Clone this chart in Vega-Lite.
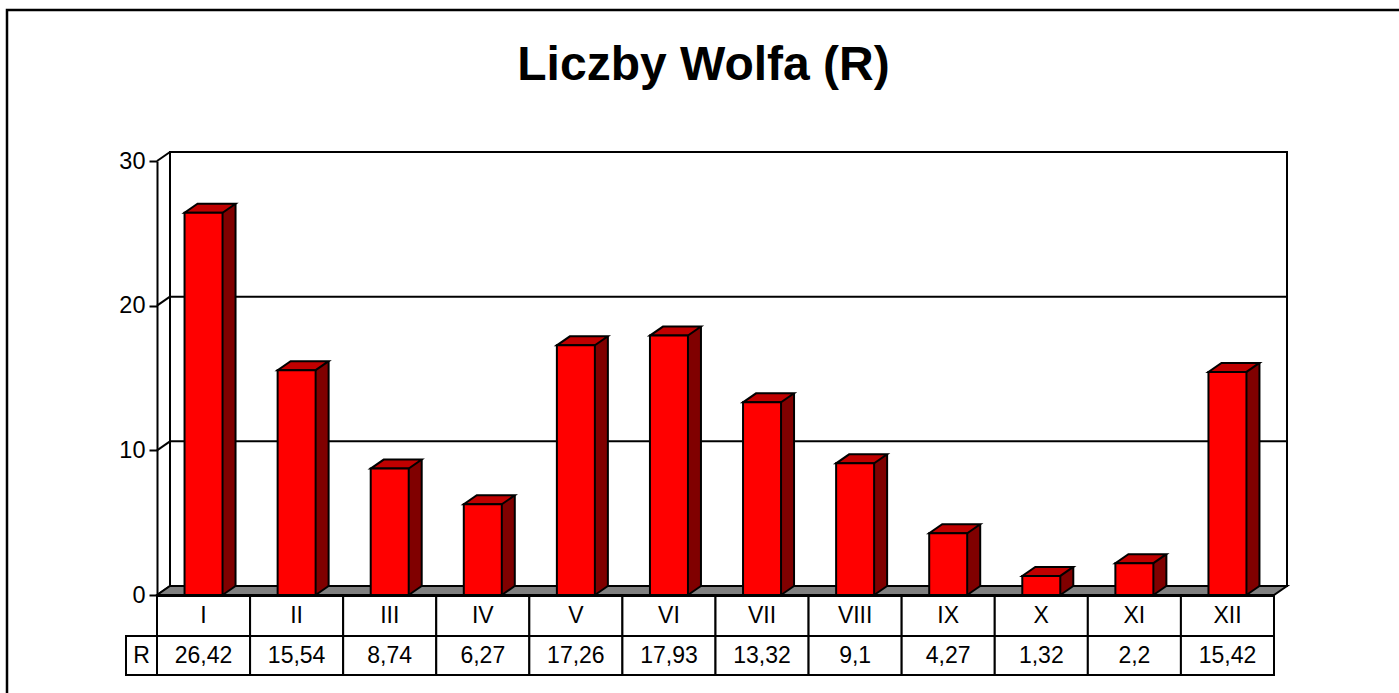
{
  "$schema": "https://vega.github.io/schema/vega-lite/v6.json",
  "width": 1117,
  "height": 434,
  "autosize": {"type": "none"},
  "padding": {"left": 157, "top": 161, "right": 125, "bottom": 98},
  "background": "white",
  "title": {
    "text": "Liczby Wolfa (R)",
    "fontSize": 48,
    "fontWeight": "bold",
    "font": "Liberation Sans",
    "color": "black",
    "anchor": "middle",
    "frame": "group",
    "dx": -12,
    "offset": -81
  },
  "config": {
    "view": {"stroke": null},
    "font": "Liberation Sans",
    "scale": {"continuousPadding": 0},
    "locale": {
      "number": {"decimal": ",", "thousands": "\u00a0", "grouping": [3], "currency": ["", " zł"]}
    }
  },
  "resolve": {"axis": {"x": "independent", "y": "independent"}},
  "data": {
    "values": [
      {"n": 1, "m": "I", "v": 26.42},
      {"n": 2, "m": "II", "v": 15.54},
      {"n": 3, "m": "III", "v": 8.74},
      {"n": 4, "m": "IV", "v": 6.27},
      {"n": 5, "m": "V", "v": 17.26},
      {"n": 6, "m": "VI", "v": 17.93},
      {"n": 7, "m": "VII", "v": 13.32},
      {"n": 8, "m": "VIII", "v": 9.1},
      {"n": 9, "m": "IX", "v": 4.27},
      {"n": 10, "m": "X", "v": 1.32},
      {"n": 11, "m": "XI", "v": 2.2},
      {"n": 12, "m": "XII", "v": 15.42}
    ]
  },
  "layer": [
    {
      "data": {"values": [{}]},
      "mark": {"type": "rect", "fillOpacity": 0, "stroke": "black", "strokeWidth": 2.5, "xOffset": -150, "x2Offset": 140, "yOffset": -151, "y2Offset": 110},
      "encoding": {
        "x": {"datum": 0.5, "type": "quantitative", "scale": {"domain": [0.5, 12.5], "nice": false, "zero": false, "padding": 0}, "axis": null},
        "x2": {"datum": 12.5},
        "y": {"datum": 30, "type": "quantitative", "scale": {"domain": [0, 30], "nice": false, "padding": 0},
          "axis": {"values": [0, 10, 20, 30], "title": null, "grid": false, "domain": true, "domainColor": "black", "domainWidth": 2, "ticks": true, "tickColor": "black", "tickWidth": 2, "tickSize": 8, "labelFont": "Liberation Sans", "labelFontSize": 23.5, "labelColor": "black", "labelPadding": 4}},
        "y2": {"datum": 0}
      }
    },
    {
      "data": {"values": [{}]},
      "mark": {"type": "rect", "fill": "white", "stroke": "black", "strokeWidth": 2, "xOffset": 13, "x2Offset": 13, "yOffset": -9, "y2Offset": -9},
      "encoding": {
        "x": {"datum": 0.5, "type": "quantitative", "scale": {"domain": [0.5, 12.5], "nice": false, "zero": false}, "axis": null},
        "x2": {"datum": 12.5},
        "y": {"datum": 30, "type": "quantitative", "scale": {"domain": [0, 30], "nice": false}, "axis": null},
        "y2": {"datum": 0}
      }
    },
    {
      "data": {"values": [{"t": 10}, {"t": 20}]},
      "mark": {"type": "rule", "color": "black", "strokeWidth": 2, "xOffset": 13, "x2Offset": 13, "yOffset": -9},
      "encoding": {
        "x": {"datum": 0.5, "type": "quantitative", "scale": {"domain": [0.5, 12.5], "nice": false, "zero": false}, "axis": null},
        "x2": {"datum": 12.5},
        "y": {"field": "t", "type": "quantitative", "scale": {"domain": [0, 30], "nice": false}, "axis": null}
      }
    },
    {
      "data": {"values": [{"t": 0}, {"t": 10}, {"t": 20}, {"t": 30}]},
      "mark": {"type": "rule", "color": "black", "strokeWidth": 2, "x2Offset": 13, "y2Offset": -9},
      "encoding": {
        "x": {"datum": 0.5, "type": "quantitative", "scale": {"domain": [0.5, 12.5], "nice": false, "zero": false}, "axis": null},
        "x2": {"datum": 0.5},
        "y": {"field": "t", "type": "quantitative", "scale": {"domain": [0, 30], "nice": false}, "axis": null},
        "y2": {"field": "t"}
      }
    },
    {
      "data": {"values": [{}]},
      "mark": {"type": "point", "shape": "M0,0 L1117,0 L1130,-9 L13,-9 Z", "size": 4, "filled": true, "fill": "#808080", "stroke": "black", "strokeWidth": 2, "opacity": 1},
      "encoding": {
        "x": {"datum": 0.5, "type": "quantitative", "scale": {"domain": [0.5, 12.5], "nice": false, "zero": false}, "axis": null},
        "y": {"datum": 0, "type": "quantitative", "scale": {"domain": [0, 30], "nice": false}, "axis": null}
      }
    },
    {
      "mark": {"type": "bar", "width": 13, "xOffset": 25.5, "yOffset": -9, "y2Offset": -9, "fill": "#800000", "strokeWidth": 0},
      "encoding": {
        "x": {"field": "n", "type": "quantitative", "scale": {"domain": [0.5, 12.5], "nice": false, "zero": false}, "axis": null},
        "y": {"field": "v", "type": "quantitative", "scale": {"domain": [0, 30], "nice": false}, "axis": null},
        "y2": {"datum": 0}
      }
    },
    {
      "mark": {"type": "point", "shape": "M19,0 L19,-10 L32,-10 L32,-9 Z", "size": 4, "filled": true, "fill": "#800000", "strokeWidth": 0, "opacity": 1},
      "encoding": {
        "x": {"field": "n", "type": "quantitative", "scale": {"domain": [0.5, 12.5], "nice": false, "zero": false}, "axis": null},
        "y": {"datum": 0, "type": "quantitative", "scale": {"domain": [0, 30], "nice": false}, "axis": null}
      }
    },
    {
      "mark": {"type": "rule", "color": "black", "strokeWidth": 2, "xOffset": 32, "yOffset": -9, "y2Offset": -9},
      "encoding": {
        "x": {"field": "n", "type": "quantitative", "scale": {"domain": [0.5, 12.5], "nice": false, "zero": false}, "axis": null},
        "y": {"field": "v", "type": "quantitative", "scale": {"domain": [0, 30], "nice": false}, "axis": null},
        "y2": {"datum": 0}
      }
    },
    {
      "mark": {"type": "rule", "color": "black", "strokeWidth": 2, "xOffset": 19, "x2Offset": 32, "y2Offset": -9},
      "encoding": {
        "x": {"field": "n", "type": "quantitative", "scale": {"domain": [0.5, 12.5], "nice": false, "zero": false}, "axis": null},
        "x2": {"field": "n"},
        "y": {"datum": 0, "type": "quantitative", "scale": {"domain": [0, 30], "nice": false}, "axis": null},
        "y2": {"datum": 0}
      }
    },
    {
      "mark": {"type": "point", "shape": "M-19,0 L19,0 L32,-9 L-6,-9 Z", "size": 4, "filled": true, "fill": "#C00000", "stroke": "black", "strokeWidth": 2, "opacity": 1},
      "encoding": {
        "x": {"field": "n", "type": "quantitative", "scale": {"domain": [0.5, 12.5], "nice": false, "zero": false}, "axis": null},
        "y": {"field": "v", "type": "quantitative", "scale": {"domain": [0, 30], "nice": false}, "axis": null}
      }
    },
    {
      "mark": {"type": "bar", "width": 38, "fill": "#FF0000", "stroke": "black", "strokeWidth": 2},
      "encoding": {
        "x": {"field": "n", "type": "quantitative", "scale": {"domain": [0.5, 12.5], "nice": false, "zero": false}, "axis": null},
        "y": {"field": "v", "type": "quantitative", "scale": {"domain": [0, 30], "nice": false}, "axis": null},
        "y2": {"datum": 0}
      }
    },
    {
      "mark": {"type": "bar", "width": 93.083, "fill": "white", "stroke": "black", "strokeWidth": 2, "yOffset": 1, "y2Offset": 41},
      "encoding": {
        "x": {"field": "n", "type": "quantitative", "scale": {"domain": [0.5, 12.5], "nice": false, "zero": false}, "axis": null},
        "y": {"datum": 0, "type": "quantitative", "scale": {"domain": [0, 30], "nice": false}, "axis": null},
        "y2": {"datum": 0}
      }
    },
    {
      "mark": {"type": "bar", "width": 93.083, "fill": "white", "stroke": "black", "strokeWidth": 2, "yOffset": 41, "y2Offset": 80},
      "encoding": {
        "x": {"field": "n", "type": "quantitative", "scale": {"domain": [0.5, 12.5], "nice": false, "zero": false}, "axis": null},
        "y": {"datum": 0, "type": "quantitative", "scale": {"domain": [0, 30], "nice": false}, "axis": null},
        "y2": {"datum": 0}
      }
    },
    {
      "data": {"values": [{"s": "R"}]},
      "layer": [
        {
          "mark": {"type": "rect", "fill": "white", "stroke": "black", "strokeWidth": 2, "xOffset": -31, "yOffset": 41, "y2Offset": 80},
          "encoding": {
            "x": {"datum": 0.5, "type": "quantitative", "scale": {"domain": [0.5, 12.5], "nice": false, "zero": false}, "axis": null},
            "x2": {"datum": 0.5},
            "y": {"datum": 0, "type": "quantitative", "scale": {"domain": [0, 30], "nice": false}, "axis": null},
            "y2": {"datum": 0}
          }
        },
        {
          "mark": {"type": "text", "font": "Liberation Sans", "fontSize": 23, "color": "black", "baseline": "middle", "align": "center", "xOffset": -15.5, "yOffset": 61},
          "encoding": {
            "x": {"datum": 0.5, "type": "quantitative", "scale": {"domain": [0.5, 12.5], "nice": false, "zero": false}, "axis": null},
            "y": {"datum": 0, "type": "quantitative", "scale": {"domain": [0, 30], "nice": false}, "axis": null},
            "text": {"field": "s"}
          }
        }
      ]
    },
    {
      "mark": {"type": "text", "font": "Liberation Sans", "fontSize": 23, "color": "black", "baseline": "middle", "align": "center", "yOffset": 21},
      "encoding": {
        "x": {"field": "n", "type": "quantitative", "scale": {"domain": [0.5, 12.5], "nice": false, "zero": false}, "axis": null},
        "y": {"datum": 0, "type": "quantitative", "scale": {"domain": [0, 30], "nice": false}, "axis": null},
        "text": {"field": "m"}
      }
    },
    {
      "mark": {"type": "text", "font": "Liberation Sans", "fontSize": 23, "color": "black", "baseline": "middle", "align": "center", "yOffset": 61},
      "encoding": {
        "x": {"field": "n", "type": "quantitative", "scale": {"domain": [0.5, 12.5], "nice": false, "zero": false}, "axis": null},
        "y": {"datum": 0, "type": "quantitative", "scale": {"domain": [0, 30], "nice": false}, "axis": null},
        "text": {"field": "v", "type": "quantitative", "format": "~r"}
      }
    }
  ]
}
